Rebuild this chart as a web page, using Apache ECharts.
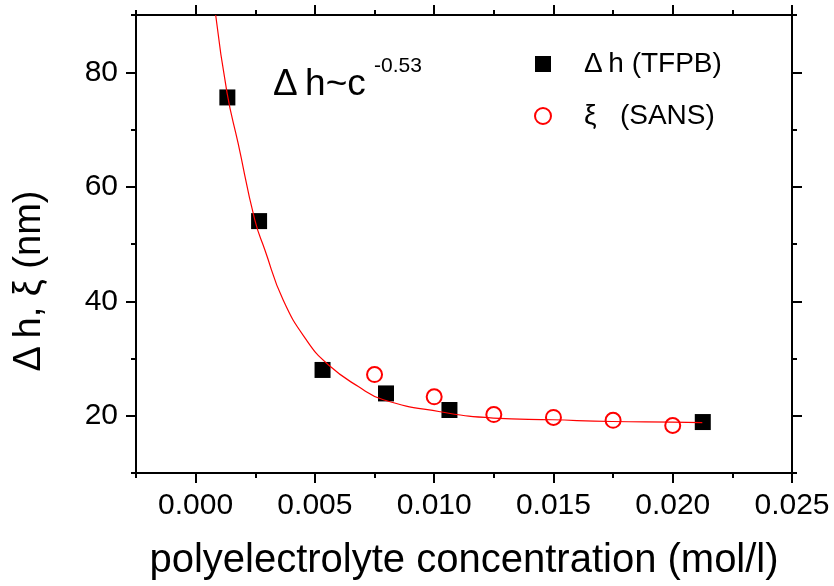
<!DOCTYPE html>
<html lang="en">
  <head>
    <meta charset="UTF-8" />
    <script src="https://cdn.jsdelivr.net/npm/echarts@6/dist/echarts.min.js"></script>
    <title>thickness vs concentration</title>
    <style>
      html, body { margin: 0; padding: 0; background: #fff; }
      #app { width: 834px; height: 586px; }
    </style>
  </head>
  <body>
    <div id="app"></div>
    <script>
      // TFPB step heights (black squares)
      const tfpbX = [0.00133, 0.00266, 0.00532, 0.00798, 0.01064, 0.02126];
      const tfpbY = [75.6, 54.0, 28.0, 23.9, 21.0, 18.9];
      // SANS correlation length (red open circles)
      const sansX = [0.0075, 0.01, 0.0125, 0.015, 0.0175, 0.02];
      const sansY = [27.2, 23.3, 20.2, 19.7, 19.2, 18.3];
      // fit curve
      const fitX = [0.00084, 0.00132, 0.00178, 0.00248, 0.0029, 0.00367, 0.00465, 0.00556,
        0.00682, 0.00787, 0.01025, 0.01248, 0.01497, 0.01746, 0.01998, 0.02124];
      const fitY = [90, 76.3, 67.6, 54.2, 49.0, 40.2, 33.2, 28.9,
        25.1, 22.8, 20.7, 19.6, 19.3, 19.0, 18.9, 18.8];

      const xMajor = [0, 0.005, 0.01, 0.015, 0.02, 0.025];
      const xMinor = [-0.0025, 0.0025, 0.0075, 0.0125, 0.0175, 0.0225];
      const yMajor = [20, 40, 60, 80];
      const yMinor = [10, 30, 50, 70, 90];

      const font = "'Liberation Sans', Arial, sans-serif";
      const zip = (xs, ys) => xs.map((x, i) => [x, ys[i]]);

      const line = { show: true, onZero: false, lineStyle: { color: "#000", width: 2 } };

      function xAx(pos, ticks, len, labels) {
        return {
          type: "value", position: pos, min: -0.0025, max: 0.025,
          axisLine: line,
          axisTick: { show: true, inside: false, length: len, customValues: ticks,
            lineStyle: { color: "#000", width: 2 } },
          axisLabel: labels
            ? { show: true, customValues: ticks, margin: 18, color: "#000", fontSize: 30,
                fontFamily: font, formatter: (v) => v.toFixed(3) }
            : { show: false },
          splitLine: { show: false },
        };
      }
      function yAx(pos, ticks, len, labels) {
        return {
          type: "value", position: pos, min: 10, max: 90,
          axisLine: line,
          axisTick: { show: true, inside: false, length: len, customValues: ticks,
            lineStyle: { color: "#000", width: 2 } },
          axisLabel: labels
            ? { show: true, customValues: ticks, margin: 18, color: "#000", fontSize: 30,
                fontFamily: font }
            : { show: false },
          splitLine: { show: false },
        };
      }

      const xAxes = [
        xAx("bottom", xMajor, 10, true),
        xAx("bottom", xMinor, 5, false),
        xAx("top", xMajor, 10, false),
        xAx("top", xMinor, 5, false),
      ];
      xAxes[0].name = "polyelectrolyte concentration (mol/l)";
      xAxes[0].nameLocation = "middle";
      xAxes[0].nameGap = 68;
      xAxes[0].nameTextStyle = { fontSize: 40, fontFamily: font, color: "#000" };

      const chart = echarts.init(document.getElementById("app"));
      chart.setOption({
        animation: false,
        grid: { left: 136, right: 42, top: 15, bottom: 113 },
        xAxis: xAxes,
        yAxis: [
          yAx("left", yMajor, 10, true),
          yAx("left", yMinor, 5, false),
          yAx("right", yMajor, 10, false),
          yAx("right", yMinor, 5, false),
        ],
        legend: {
          orient: "vertical",
          left: 529, top: 44,
          itemWidth: 16, itemHeight: 16, itemGap: 22,
          textStyle: { fontSize: 28, fontFamily: font, color: "#000", lineHeight: 30,
            padding: [0, 0, 0, 28] },
          data: ["Δ\u2009h (TFPB)", "ξ   (SANS)"],
        },
        graphic: [
          { type: "text", left: 273, top: 66,
            style: { text: "Δ\u2009h~c", fontSize: 37, fontFamily: font, fill: "#000" } },
          { type: "text", left: 374, top: 56,
            style: { text: "-0.53", fontSize: 21, fontFamily: font, fill: "#000" } },
          { type: "text", x: 30, y: 281, rotation: Math.PI / 2,
            style: { text: "Δ\u2009h, ξ (nm)", fontSize: 38, fontFamily: font, fill: "#000",
              align: "center", verticalAlign: "middle" } },
        ],
        series: [
          {
            name: "Δ\u2009h (TFPB)", type: "scatter", symbol: "rect", symbolSize: 16,
            itemStyle: { color: "#000", opacity: 1 },
            data: zip(tfpbX, tfpbY),
          },
          {
            name: "ξ   (SANS)", type: "scatter", symbol: "circle", symbolSize: 15,
            itemStyle: { color: "rgba(255,255,255,0)", borderColor: "#ff0000", borderWidth: 2, opacity: 1 },
            data: zip(sansX, sansY),
          },
          {
            name: "fit", type: "line", showSymbol: false, smooth: 0.5,
            lineStyle: { color: "#ff0000", width: 1.2 }, z: 5,
            data: zip(fitX, fitY),
          },
        ],
      });
    </script>
  </body>
</html>
